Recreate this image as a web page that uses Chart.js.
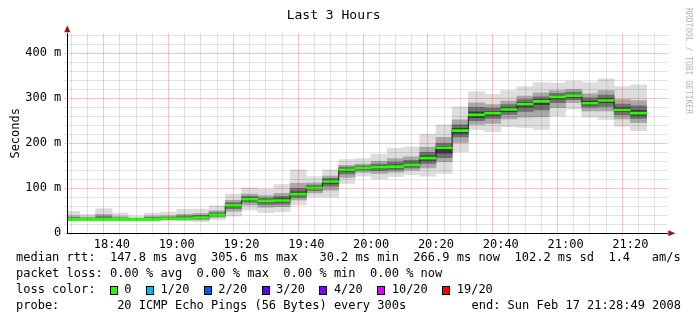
<!DOCTYPE html>
<html>
<head>
<meta charset="utf-8">
<script src="https://cdn.jsdelivr.net/npm/chart.js@4.4.1/dist/chart.umd.min.js"></script>
<style>
  html, body { margin: 0; padding: 0; background: #fff; }
  canvas { display: block; }
</style>
</head>
<body>
<canvas id="smoke" width="697" height="321"></canvas>
<script>
// one entry per 5 minute step, label is the start of the step
const steps = ['18:25', '18:30', '18:35', '18:40', '18:45', '18:50', '18:55', '19:00', '19:05', '19:10',
  '19:15', '19:20', '19:25', '19:30', '19:35', '19:40', '19:45', '19:50', '19:55', '20:00',
  '20:05', '20:10', '20:15', '20:20', '20:25', '20:30', '20:35', '20:40', '20:45', '20:50',
  '20:55', '21:00', '21:05', '21:10', '21:15', '21:20'];

// median rtt in ms
const median = [31, 31, 31, 31, 30.5, 31, 33, 33, 35, 41, 62, 76, 72, 73, 87, 101, 115, 141, 145, 147,
  148, 152, 167, 190, 228, 263, 267, 275, 287, 293, 303, 306, 289, 295, 274, 267];

// smoke: fastest / slowest ping of each step
const pingMin = [28, 28, 28, 28, 28, 28, 29, 28, 26, 31, 38, 52, 46, 48, 63, 81, 81, 111, 127, 121,
  126, 130, 127, 133, 181, 230, 226, 237, 235, 231, 260, 276, 258, 253, 238, 228];
const pingMax = [49, 42, 55, 45, 38, 45, 47, 53, 54, 61, 87, 101, 98, 108, 141, 126, 141, 164, 166, 176,
  189, 192, 220, 241, 281, 315, 309, 317, 326, 335, 334, 338, 335, 343, 326, 330];

// inner smoke bands (ping 4..17, 7..14, 9..12 of 20)
const ping4 = [29, 29, 29, 29, 29, 29, 30.5, 30, 30, 35.5, 49, 63, 58, 59, 74, 90, 96, 124, 135, 133,
  136, 140, 145, 159, 202, 242, 244, 254, 258, 259, 279, 290, 272, 272, 254, 246];
const ping17 = [39, 36, 42, 37, 34, 38, 39, 42, 44, 50, 73, 87, 84, 89, 111, 112, 127, 151, 154, 160,
  166, 170, 191, 213, 252, 290, 286, 294, 305, 312, 317, 320, 310, 317, 297, 295];
const ping7 = [30, 30, 30, 30, 30, 30, 31.5, 31.5, 32, 38, 55, 69, 64, 65, 80, 95, 105, 132, 140, 139,
  141, 145, 155, 168, 214, 250, 255, 264, 271, 274, 290, 297, 280, 282, 263, 255];
const ping14 = [35, 34, 37, 34, 32, 35, 36, 38, 40, 46, 68, 82, 78, 82, 100, 107, 122, 147, 150, 154,
  158, 162, 180, 200, 241, 280, 278, 286, 297, 303, 311, 314, 301, 307, 287, 283];
const ping9 = [30.5, 30.5, 30.5, 30.5, 30, 30.5, 32, 32.5, 34, 40, 59, 73, 69, 70, 84, 99, 111, 137, 143, 144,
  145, 149, 162, 178, 222, 257, 262, 270, 281, 286, 298, 302, 285, 290, 270, 262];
const ping12 = [32.5, 32, 33, 32, 31, 33, 34.5, 35, 37, 43, 65, 79, 75, 77, 92, 104, 118, 143, 147, 150,
  152, 156, 172, 193, 233, 270, 271, 279, 291, 297, 306, 309, 294, 300, 279, 273];

const startTime = '18:28:49';
const endTime = '21:28:49';
const yMax = 444.4;

const statLines = [
  'median rtt:  147.8 ms avg  305.6 ms max   30.2 ms min  266.9 ms now  102.2 ms sd  1.4   am/s',
  'packet loss: 0.00 % avg  0.00 % max  0.00 % min  0.00 % now'
];
const lossLabels = ['0', '1/20', '2/20', '3/20', '4/20', '10/20', '19/20'];
const lossColors = ['#26ff00', '#00b8ff', '#0059ff', '#5e00ff', '#7e00ff', '#dd00ff', '#ff0000'];
const probeText = 'probe:        20 ICMP Echo Pings (56 Bytes) every 300s';
const endText = 'end: Sun Feb 17 21:28:49 2008';

const MONO = '"DejaVu Sans Mono", "Liberation Mono", monospace';
const stepMinutes = 5;
const medianHalf = 2.2; // half thickness of the median bar, in ms

const toMin = s => {
  const p = s.split(':').map(Number);
  return p[0] * 60 + p[1] + (p[2] || 0) / 60;
};
const fmtMin = v => Math.floor(v / 60) + ':' + String(Math.round(v % 60)).padStart(2, '0');

const centers = steps.map(s => toMin(s) + stepMinutes / 2);
const band = (lo, hi) => centers.map((x, i) => ({ x, y: [lo[i], hi[i]] }));
const xMin = toMin(startTime);
const xMax = toMin(endTime);

const minorGrid = 'rgba(0, 0, 0, 0.11)';
const majorGrid = 'rgba(235, 0, 0, 0.23)';

const decor = {
  id: 'decor',
  beforeDraw(chart) {
    const ctx = chart.ctx;
    ctx.save();
    ctx.fillStyle = '#fff';
    ctx.fillRect(0, 0, chart.width, chart.height);
    ctx.restore();
  },
  afterDraw(chart) {
    const { ctx, chartArea: a } = chart;
    ctx.save();
    // axis arrows
    ctx.fillStyle = '#a01010';
    ctx.beginPath();
    ctx.moveTo(a.right + 1, a.bottom - 3);
    ctx.lineTo(a.right + 8, a.bottom);
    ctx.lineTo(a.right + 1, a.bottom + 3);
    ctx.fill();
    ctx.beginPath();
    ctx.moveTo(a.left - 3, a.top - 1);
    ctx.lineTo(a.left, a.top - 8);
    ctx.lineTo(a.left + 3, a.top - 1);
    ctx.fill();

    // legend
    ctx.font = '12px ' + MONO;
    ctx.fillStyle = '#000';
    ctx.textBaseline = 'middle';
    ctx.textAlign = 'left';
    const cw = ctx.measureText('0').width;
    const x0 = 16;
    ctx.fillText(statLines[0], x0, 258);
    ctx.fillText(statLines[1], x0, 274);
    ctx.fillText('loss color:', x0, 290);
    let col = 13;
    lossLabels.forEach((lab, i) => {
      const sx = Math.round(x0 + col * cw) + 0.5;
      ctx.fillStyle = lossColors[i];
      ctx.fillRect(sx, 286.5, 7, 8);
      ctx.strokeStyle = '#000';
      ctx.lineWidth = 1;
      ctx.strokeRect(sx, 286.5, 7, 8);
      ctx.fillStyle = '#000';
      ctx.fillText(lab, x0 + (col + 2) * cw, 290);
      col += lab.length + 4;
    });
    ctx.fillText(probeText, x0, 306);
    ctx.textAlign = 'right';
    ctx.fillText(endText, 681, 306);

    // watermark
    ctx.translate(688, 8);
    ctx.rotate(Math.PI / 2);
    ctx.font = '8px ' + MONO;
    ctx.fillStyle = '#b4b4b4';
    ctx.textAlign = 'left';
    ctx.fillText('RRDTOOL / TOBI OETIKER', 0, 0);
    ctx.restore();
  }
};

new Chart(document.getElementById('smoke'), {
  type: 'bar',
  data: {
    datasets: [
      { data: band(pingMin, pingMax), backgroundColor: '#dddddd', order: 5 },
      { data: band(ping4, ping17), backgroundColor: '#a8a8a8', order: 4 },
      { data: band(ping7, ping14), backgroundColor: '#707070', order: 3 },
      { data: band(ping9, ping12), backgroundColor: '#3c3c3c', order: 2 },
      {
        type: 'line', data: centers.map((x, i) => ({ x, y: median[i] })),
        stepped: 'middle', borderColor: '#202020', borderWidth: 1, pointRadius: 0, order: 1
      },
      {
        data: centers.map((x, i) => ({ x, y: [median[i] - medianHalf, median[i] + medianHalf] })),
        backgroundColor: lossColors[0], order: 0
      }
    ]
  },
  options: {
    responsive: false,
    animation: false,
    events: [],
    layout: { padding: { left: 0, right: 29.7, top: 0, bottom: 0 } },
    datasets: {
      bar: { grouped: false, categoryPercentage: 1, barPercentage: 1, borderWidth: 0 }
    },
    plugins: {
      legend: { display: false },
      tooltip: { enabled: false },
      title: {
        display: true,
        text: 'Last 3 Hours',
        color: '#000',
        font: { family: MONO, size: 13, weight: 'normal', lineHeight: 1.2 },
        padding: { top: 8, bottom: 9.7 }
      }
    },
    scales: {
      x: {
        type: 'linear',
        min: xMin,
        max: xMax,
        bounds: 'data',
        afterFit: s => { s.height = 87.7; },
        afterBuildTicks: s => {
          const t = [];
          for (let v = Math.ceil(xMin / stepMinutes) * stepMinutes; v <= xMax; v += stepMinutes) t.push({ value: v });
          s.ticks = t;
        },
        grid: {
          z: 1,
          tickLength: 3,
          color: c => (c.tick && Math.round(c.tick.value) % 20 === 0 ? majorGrid : minorGrid)
        },
        border: { display: true, color: '#000', width: 1, z: 2 },
        ticks: {
          autoSkip: false,
          maxRotation: 0,
          padding: 1,
          color: '#000',
          font: { family: MONO, size: 12 },
          callback: v => (Math.round(v) % 20 === 0 ? fmtMin(v) : '')
        }
      },
      y: {
        min: 0,
        max: yMax,
        bounds: 'data',
        afterFit: s => { s.width = 67.3; },
        afterBuildTicks: s => {
          const t = [];
          for (let v = 0; v <= yMax; v += 20) t.push({ value: v });
          s.ticks = t;
        },
        grid: {
          z: 1,
          tickLength: 3,
          color: c => (c.tick && c.tick.value % 100 === 0 ? majorGrid : minorGrid)
        },
        border: { display: true, color: '#000', width: 1, z: 2 },
        title: {
          display: true,
          text: 'Seconds',
          color: '#000',
          font: { family: MONO, size: 12, lineHeight: 1.2 },
          padding: { top: 9, bottom: 0 }
        },
        ticks: {
          autoSkip: false,
          padding: 3,
          color: '#000',
          font: { family: MONO, size: 12 },
          callback: v => (v % 100 === 0 ? (v === 0 ? '0' : v + ' m') : '')
        }
      }
    }
  },
  plugins: [decor]
});
</script>
</body>
</html>
